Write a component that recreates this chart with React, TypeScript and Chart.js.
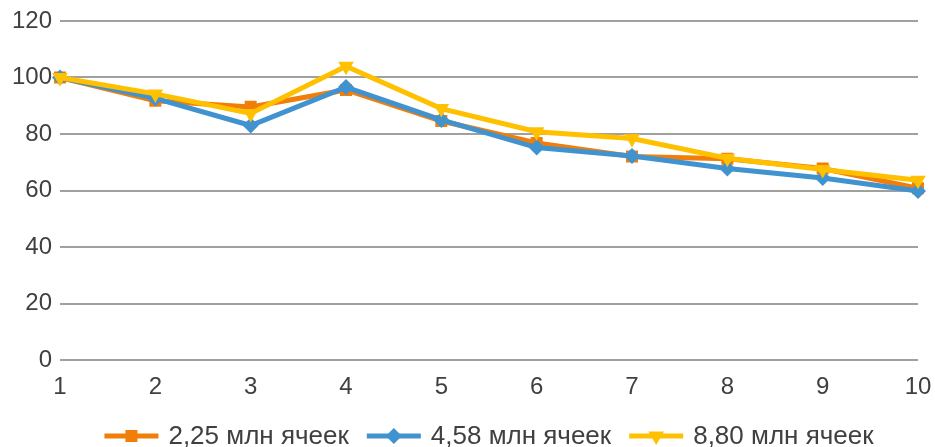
import React, { useEffect, useRef } from "react";
import { Chart, registerables } from "chart.js";

Chart.register(...registerables);

const categories = ["1", "2", "3", "4", "5", "6", "7", "8", "9", "10"];
const series225 = [100, 91.8, 89.6, 95.6, 84.6, 76.8, 72, 71.2, 67.8, 60.8];
const series458 = [100, 92.6, 83, 96.6, 85, 75.2, 72.2, 67.8, 64.4, 59.8];
const series880 = [100, 94.2, 87.3, 104, 89, 80.8, 78.4, 71.4, 67.4, 63.6];
const seriesLabels = ["2,25 млн ячеек", "4,58 млн ячеек", "8,80 млн ячеек"];
const yTicks = [0, 20, 40, 60, 80, 100, 120];

const ORANGE = "#F27E0A";
const BLUE = "#4193D0";
const YELLOW = "#FFC000";
const TEXT = "#404040";
const FONT = "'Liberation Sans', Arial, sans-serif";

function drawMarker(ctx: CanvasRenderingContext2D, style: string, r: number, rot: number, x: number, y: number) {
  ctx.beginPath();
  if (style === "rect") {
    const s = Math.SQRT1_2 * r;
    ctx.rect(x - s, y - s, 2 * s, 2 * s);
  } else if (style === "rectRot") {
    ctx.moveTo(x, y - r);
    ctx.lineTo(x + r, y);
    ctx.lineTo(x, y + r);
    ctx.lineTo(x - r, y);
    ctx.closePath();
  } else if (style === "triangle") {
    const a = (rot * Math.PI) / 180;
    for (let k = 0; k < 3; k++) {
      const ang = a - Math.PI / 2 + (k * 2 * Math.PI) / 3;
      const px = x + Math.cos(ang) * r;
      const py = y + Math.sin(ang) * r;
      if (k === 0) ctx.moveTo(px, py);
      else ctx.lineTo(px, py);
    }
    ctx.closePath();
  }
  ctx.fill();
}

const legendPlugin = {
  id: "lineLegend",
  afterDraw(chart: any) {
    const ctx = chart.ctx;
    const area = chart.chartArea;
    const ds = chart.data.datasets;
    const lineLen = 54;
    const gapText = 10;
    const gapItem = 18;
    ctx.save();
    ctx.font = `26px ${FONT}`;
    const widths = ds.map((d: any) => ctx.measureText(d.label).width);
    let total = 0;
    widths.forEach((w: number, i: number) => {
      total += lineLen + gapText + w + (i < widths.length - 1 ? gapItem : 0);
    });
    let x = (area.left + area.right) / 2 - total / 2;
    const y = 436;
    ds.forEach((d: any, i: number) => {
      ctx.strokeStyle = d.borderColor;
      ctx.lineWidth = d.borderWidth;
      ctx.beginPath();
      ctx.moveTo(x, y);
      ctx.lineTo(x + lineLen, y);
      ctx.stroke();
      ctx.fillStyle = d.pointBackgroundColor;
      drawMarker(ctx, d.pointStyle, d.pointRadius, d.pointRotation || 0, x + lineLen / 2, y);
      ctx.fillStyle = TEXT;
      ctx.textBaseline = "middle";
      ctx.textAlign = "left";
      ctx.fillText(d.label, x + lineLen + gapText, y + 1);
      x += lineLen + gapText + widths[i] + gapItem;
    });
    ctx.restore();
  },
};

export default function App() {
  const ref = useRef<HTMLCanvasElement | null>(null);
  useEffect(() => {
    if (!ref.current) return;
    const mk = (label: string, data: number[], color: string, style: string, radius: number, order: number, rot = 0) =>
      ({
        label,
        data,
        borderColor: color,
        backgroundColor: color,
        pointBackgroundColor: color,
        pointBorderColor: color,
        borderWidth: 5,
        pointStyle: style,
        pointRadius: radius,
        pointRotation: rot,
        pointBorderWidth: 0,
        order,
        tension: 0,
      } as any);
    const chart = new Chart(ref.current, {
      type: "line",
      data: {
        labels: categories,
        datasets: [
          mk(seriesLabels[0], series225, ORANGE, "rect", 8.5, 3),
          mk(seriesLabels[1], series458, BLUE, "rectRot", 8, 2),
          mk(seriesLabels[2], series880, YELLOW, "triangle", 9, 1, 180),
        ],
      },
      options: {
        responsive: false,
        animation: false,
        layout: { padding: { top: 21, right: 17, left: 0, bottom: 0 } },
        plugins: {
          legend: { display: false },
          tooltip: { enabled: false },
        },
        scales: {
          x: {
            type: "category",
            offset: false,
            grid: { display: false, drawTicks: false },
            border: { display: false },
            ticks: {
              color: TEXT,
              font: { family: FONT, size: 24 },
              padding: 13,
              maxRotation: 0,
              autoSkip: false,
            },
            afterFit(scale: any) {
              scale.height = 87;
              scale.paddingLeft = 0;
              scale.paddingRight = 0;
            },
          },
          y: {
            min: 0,
            max: 120,
            afterBuildTicks(scale: any) {
              scale.ticks = yTicks.map((v) => ({ value: v }));
            },
            grid: { color: "#A0A0A0", lineWidth: 2, drawTicks: false },
            border: { display: false },
            ticks: {
              color: TEXT,
              font: { family: FONT, size: 24 },
              padding: 8,
            },
            afterFit(scale: any) {
              scale.width = 60;
              scale.paddingTop = 0;
              scale.paddingBottom = 0;
            },
          },
        },
      },
      plugins: [legendPlugin],
    });
    return () => chart.destroy();
  }, []);
  return (
    <div style={{ position: "absolute", left: 0, top: 0, width: 935, height: 447 }}>
      <canvas ref={ref} width={935} height={447} />
    </div>
  );
}
